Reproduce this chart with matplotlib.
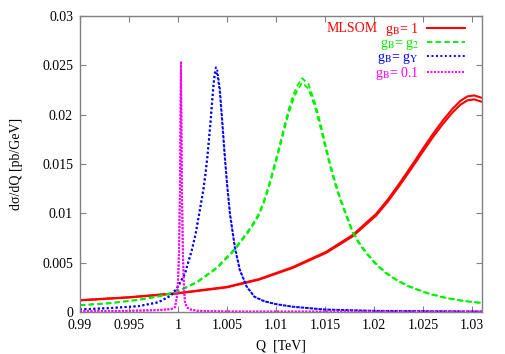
import matplotlib
matplotlib.use("Agg")
import matplotlib.pyplot as plt

plt.rcParams['font.family'] = ['Liberation Serif', 'DejaVu Serif']
plt.rcParams['mathtext.fontset'] = 'stix'

# ---- data ----
red_q = [0.990, 0.995, 1.000, 1.005, 1.0083, 1.0117, 1.0151, 1.0178, 1.0202, 1.0214,
         1.0227, 1.0240, 1.0250, 1.0260, 1.0270, 1.0280, 1.0288, 1.0295, 1.0302, 1.0310]
red_hi = [0.00120, 0.00150, 0.00192, 0.00255, 0.00335, 0.00455, 0.00610, 0.00780,
          0.00995, 0.01140, 0.01320, 0.01510, 0.01660, 0.01805, 0.01940, 0.02060,
          0.02140, 0.02185, 0.02195, 0.02170]
red_lo = [0.00118, 0.00147, 0.00189, 0.00250, 0.00329, 0.00447, 0.00599, 0.00766,
          0.00977, 0.01119, 0.01296, 0.01483, 0.01630, 0.01773, 0.01905, 0.02023,
          0.02101, 0.02145, 0.02155, 0.02130]

green_q = [0.990, 0.993, 0.996, 0.998, 1.000, 1.002, 1.004, 1.0049, 1.0055, 1.0060,
           1.0066, 1.0072, 1.0078, 1.0083, 1.0088, 1.0093, 1.0098, 1.0103, 1.0108,
           1.0113, 1.0118, 1.0122, 1.01265, 1.0133, 1.0140, 1.0146, 1.0150, 1.0155,
           1.0160, 1.0165, 1.0172, 1.0178, 1.0185, 1.0192, 1.0202, 1.0212, 1.0224,
           1.0236, 1.0255, 1.0273, 1.0290, 1.0310]
green_hi = [0.00070, 0.00090, 0.00125, 0.00160, 0.00210, 0.00310, 0.00455, 0.00550,
            0.00610, 0.00670, 0.00750, 0.00830, 0.00920, 0.01010, 0.01140, 0.01300,
            0.01480, 0.01670, 0.01870, 0.02060, 0.02210, 0.02300, 0.02370, 0.02310,
            0.02110, 0.01880, 0.01710, 0.01510, 0.01330, 0.01170, 0.00980, 0.00820,
            0.00700, 0.00605, 0.00490, 0.00400, 0.00320, 0.00260, 0.00190, 0.00145,
            0.00115, 0.00092]
green_lo = [0.00069, 0.00088, 0.00122, 0.00157, 0.00206, 0.00304, 0.00446, 0.00539,
            0.00598, 0.00657, 0.00735, 0.00813, 0.00902, 0.00990, 0.01117, 0.01274,
            0.01450, 0.01637, 0.01833, 0.02019, 0.02166, 0.02254, 0.02323, 0.02264,
            0.02068, 0.01842, 0.01676, 0.01480, 0.01303, 0.01147, 0.00960, 0.00804,
            0.00686, 0.00593, 0.00480, 0.00392, 0.00314, 0.00255, 0.00186, 0.00142,
            0.00113, 0.00090]

blue_q = [0.990, 0.993, 0.996, 0.998, 0.9993, 1.0000, 1.0007, 1.0014, 1.0018, 1.0021,
          1.0024, 1.0026, 1.0028, 1.0030, 1.0033, 1.00357, 1.0037, 1.00387, 1.0040,
          1.00426, 1.00452, 1.00477, 1.0050, 1.0053, 1.0058, 1.0063, 1.0070, 1.0078,
          1.0088, 1.0100, 1.0117, 1.0150, 1.0200, 1.0310]
blue_hi = [0.00027, 0.00040, 0.00060, 0.00100, 0.00170, 0.00260, 0.00390, 0.00630,
           0.00800, 0.00970, 0.01140, 0.01260, 0.01410, 0.01590, 0.01920, 0.02260,
           0.02400, 0.02480, 0.02450, 0.02270, 0.01930, 0.01590, 0.01310, 0.01000,
           0.00660, 0.00430, 0.00260, 0.00155, 0.00110, 0.00080, 0.00054, 0.00025,
           0.00012, 0.00005]
blue_lo = [0.00026, 0.00039, 0.00059, 0.00098, 0.00167, 0.00256, 0.00384, 0.00620,
           0.00788, 0.00955, 0.01123, 0.01241, 0.01389, 0.01566, 0.01891, 0.02226,
           0.02364, 0.02440, 0.02410, 0.02236, 0.01901, 0.01566, 0.01290, 0.00985,
           0.00650, 0.00424, 0.00256, 0.00153, 0.00108, 0.00079, 0.00053, 0.00025,
           0.00012, 0.00005]

mag_q = [0.990, 0.995, 0.998, 0.9993, 0.9997, 0.9999, 1.0000, 1.0001, 1.0002, 1.00025,
         1.0003, 1.00035, 1.0004, 1.0005, 1.0006, 1.0007, 1.0009, 1.0012, 1.0020,
         1.0050, 1.0310]
mag_hi = [0.00008, 0.00012, 0.00020, 0.00030, 0.00050, 0.00170, 0.00320, 0.00620,
          0.01250, 0.01900, 0.02540, 0.01900, 0.01250, 0.00600, 0.00280, 0.00110,
          0.00050, 0.00027, 0.00012, 0.00005, 0.00003]
mag_lo = [0.00008, 0.00012, 0.00019, 0.00029, 0.00048, 0.00160, 0.00300, 0.00590,
          0.01200, 0.01830, 0.02450, 0.01830, 0.01200, 0.00570, 0.00265, 0.00105,
          0.00048, 0.00026, 0.00012, 0.00005, 0.00003]

labels = [r'g$_{\mathrm{B}}$= 1', r'g$_{\mathrm{B}}$= g$_{2}$',
          r'g$_{\mathrm{B}}$= g$_{\mathrm{Y}}$', r'g$_{\mathrm{B}}$= 0.1']
xticks = [0.99, 0.995, 1.0, 1.005, 1.01, 1.015, 1.02, 1.025, 1.03]
xticklabels = ['0.99', '0.995', '1', '1.005', '1.01', '1.015', '1.02', '1.025', '1.03']
yticks = [0, 0.005, 0.01, 0.015, 0.02, 0.025, 0.03]
yticklabels = ['0', '0.005', '0.01', '0.015', '0.02', '0.025', '0.03']

# ---- plot ----
fig = plt.figure(figsize=(5.06, 3.54), dpi=100)
ax = fig.add_axes([0.158, 0.1186, 0.7946, 0.8362])

RED = '#ff0000'
GREEN = '#00ee00'
BLUE = '#0000ff'
MAG = '#ff00ff'

sty = {
    'red': dict(color=RED, lw=1.5, ls='-'),
    'green': dict(color=GREEN, lw=1.3, ls=(0, (3, 1.8))),
    'blue': dict(color=BLUE, lw=1.4, ls=(0, (1, 1.3))),
    'mag': dict(color=MAG, lw=1.4, ls=(0, (1, 0.8))),
}

h1, = ax.plot(red_q, red_hi, **sty['red'])
ax.plot(red_q, red_lo, **sty['red'])
h2, = ax.plot(green_q, green_hi, **sty['green'])
ax.plot(green_q, green_lo, **sty['green'])
h3, = ax.plot(blue_q, blue_hi, **sty['blue'])
ax.plot(blue_q, blue_lo, **sty['blue'])
h4, = ax.plot(mag_q, mag_hi, **sty['mag'])
ax.plot(mag_q, mag_lo, **sty['mag'])

ax.set_xlim(0.99, 1.031)
ax.set_ylim(0, 0.03)
ax.set_xticks(xticks)
ax.set_xticklabels(xticklabels)
ax.set_yticks(yticks)
ax.set_yticklabels(yticklabels)
ax.tick_params(direction='in', length=4, width=0.8, color='#808080',
               top=True, right=True, labelsize=10, pad=5)
for s in ax.spines.values():
    s.set_color('#808080')
    s.set_linewidth(1.0)

ax.set_xlabel('Q  [TeV]', fontsize=10, labelpad=5.5)
ax.set_ylabel('d\u03c3/dQ [pb/GeV]', fontsize=10, labelpad=14)

leg = ax.legend([h1, h2, h3, h4], labels, loc='upper right',
                bbox_to_anchor=(0.9725, 1.003), markerfirst=False, frameon=False,
                handlelength=2.75, handletextpad=0.6, labelspacing=-0.07,
                fontsize=10, borderaxespad=0.0, labelcolor='linecolor')

ax.text(0.613, 0.958, 'MLSOM', color=RED, fontsize=10, transform=ax.transAxes,
        ha='left', va='center')

fig.savefig('out.png', dpi=100)
